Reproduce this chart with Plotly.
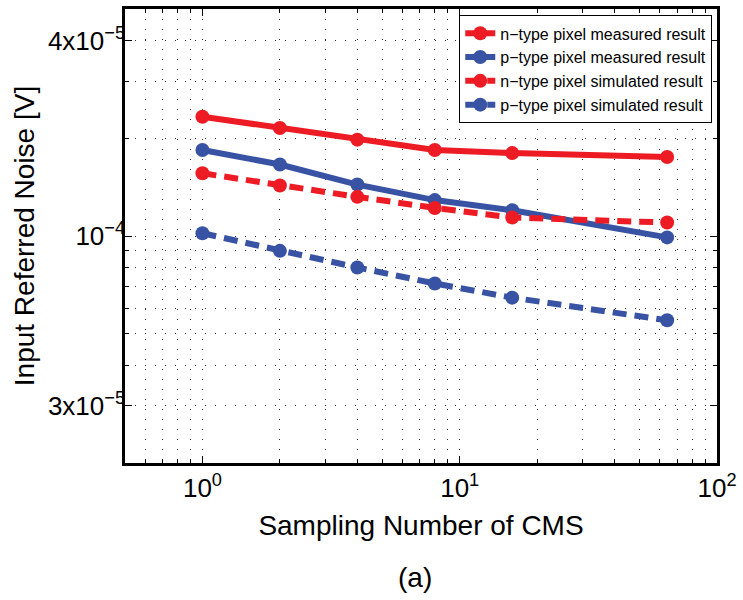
import plotly.graph_objects as go

# Sampling number of the correlated multiple sampling (CMS)
samples = [1, 2, 4, 8, 16, 64]

# Input referred noise [V]
n_measured = [2.33e-4, 2.15e-4, 1.98e-4, 1.84e-4, 1.80e-4, 1.75e-4]
p_measured = [1.84e-4, 1.66e-4, 1.44e-4, 1.29e-4, 1.20e-4, 0.99e-4]
n_simulated = [1.56e-4, 1.43e-4, 1.32e-4, 1.22e-4, 1.14e-4, 1.10e-4]
p_simulated = [1.02e-4, 9.0e-5, 8.0e-5, 7.14e-5, 6.46e-5, 5.5e-5]

series_names = [
    "n−type pixel measured result",
    "p−type pixel measured result",
    "n−type pixel simulated result",
    "p−type pixel simulated result",
]

x_tickvals = [1, 10, 100]
x_ticktext = ["10<sup>0</sup>", "10<sup>1</sup>", "10<sup>2</sup>"]
y_tickvals = [3e-5, 1e-4, 4e-4]
y_ticktext = ["3x10<sup>−5</sup>", "10<sup>−4</sup>", "4x10<sup>−5</sup>"]

RED = "#ED1C24"
BLUE = "#3953A4"
FONT = "Arial, 'Liberation Sans', sans-serif"
DASH = "14px,8px"
GRID = "#333333"
DOTS = "1px,9px"

fig = go.Figure()
styles = [
    (n_measured, RED, "solid"),
    (p_measured, BLUE, "solid"),
    (n_simulated, RED, DASH),
    (p_simulated, BLUE, DASH),
]
for (vals, color, dash), name in zip(styles, series_names):
    fig.add_trace(go.Scatter(
        x=samples, y=vals, name=name, mode="lines+markers",
        line=dict(color=color, width=6, dash=dash),
        marker=dict(color=color, size=14),
    ))

x_minor = [v * 10.0 ** e for e in (-1, 0, 1) for v in range(2, 10)]
x_minor = [v for v in x_minor if 0.5 <= v <= 100]
y_minor = [v * 10.0 ** e for e in (-5, -4) for v in range(2, 10)]
y_minor = [v for v in y_minor if 2e-5 <= v <= 5e-4 and not any(abs(v - t) < 1e-12 for t in y_tickvals)]

axis_common = dict(
    showgrid=True, gridcolor=GRID, gridwidth=1, griddash=DOTS,
    showline=True, linecolor="black", linewidth=2.5, mirror="allticks",
    ticks="inside", ticklen=7, tickwidth=1, tickcolor="black",
    zeroline=False, ticklabeloverflow="allow",
)
minor_common = dict(showgrid=True, gridcolor=GRID, griddash=DOTS,
                    ticks="inside", ticklen=4, tickcolor="black")

fig.update_xaxes(
    type="log", range=[-0.30103, 2],
    tickmode="array", tickvals=x_tickvals, ticktext=x_ticktext,
    tickfont=dict(family=FONT, size=26, color="black"),
    title=dict(text="Sampling Number of CMS",
               font=dict(family=FONT, size=28, color="black"), standoff=14),
    minor=dict(tickvals=x_minor, **minor_common),
    **axis_common,
)
fig.update_yaxes(
    type="log", range=[-4.69897, -3.30103],
    tickmode="array", tickvals=y_tickvals, ticktext=y_ticktext,
    tickfont=dict(family=FONT, size=26, color="black"),
    ticklabelstandoff=-8,
    title=dict(text="Input Referred Noise [V]",
               font=dict(family=FONT, size=28, color="black"), standoff=6),
    minor=dict(tickvals=y_minor, **minor_common),
    **axis_common,
)

fig.add_annotation(
    text="(a)", xref="paper", yref="paper", x=0.49, y=-0.2516,
    xanchor="center", yanchor="middle", showarrow=False,
    font=dict(family=FONT, size=28, color="black"),
)

fig.update_layout(
    width=743, height=600,
    margin=dict(l=125, r=18, t=6, b=137),
    paper_bgcolor="white", plot_bgcolor="white",
    font=dict(family=FONT, color="black"),
    showlegend=True,
    legend=dict(
        x=0.992, y=0.986, xanchor="right", yanchor="top",
        bgcolor="white", bordercolor="black", borderwidth=1,
        font=dict(family=FONT, size=16, color="black"),
        tracegroupgap=0, itemwidth=30,
    ),
)

fig.write_html("out.html")
